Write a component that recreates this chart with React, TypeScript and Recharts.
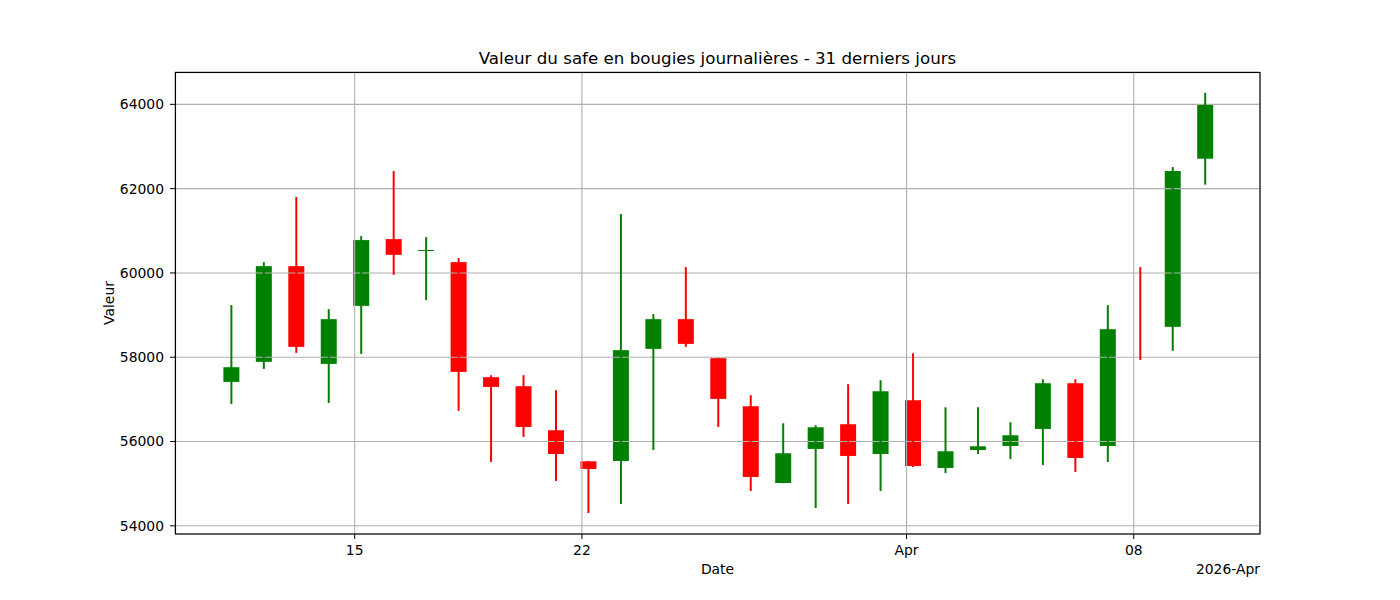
import { Bar, CartesianGrid, ComposedChart, XAxis, YAxis } from "recharts";

// bougies journalières (heure UTC du point = 05:00)
const jours = [
  "2026-03-11", "2026-03-12", "2026-03-13", "2026-03-14", "2026-03-15", "2026-03-16", "2026-03-17",
  "2026-03-18", "2026-03-19", "2026-03-20", "2026-03-21", "2026-03-22", "2026-03-23", "2026-03-24",
  "2026-03-25", "2026-03-26", "2026-03-27", "2026-03-28", "2026-03-29", "2026-03-30", "2026-03-31",
  "2026-04-01", "2026-04-02", "2026-04-03", "2026-04-04", "2026-04-05", "2026-04-06", "2026-04-07",
  "2026-04-08", "2026-04-09", "2026-04-10",
];
const ouvertures = [
  57415, 57890, 60161, 57842, 59219, 60802, 60525, 60256, 57526, 57312, 56267, 55531, 55539, 58198,
  58903, 57977, 56837, 55016, 55824, 56410, 55705, 56979, 55373, 55800, 55895, 56299, 57383, 55895,
  57945, 58721, 62710,
];
const hauts = [
  59235, 60256, 61800, 59140, 60874, 62417, 60850, 60351, 57573, 57573, 57217, 55540, 61396, 59022,
  60137, 57985, 57098, 56433, 56386, 57359, 57454, 58095, 56813, 56813, 56457, 57478, 57478, 59235,
  60137, 62512, 64269,
];
const bas = [
  56892, 57723, 58103, 56916, 58080, 59955, 59354, 56726, 55515, 56109, 55064, 54304, 54518, 55800,
  58246, 56346, 54827, 55010, 54423, 54518, 54827, 55396, 55254, 55705, 55586, 55444, 55278, 55515,
  57937, 58151, 62093,
];
const clotures = [
  57763, 60161, 58246, 58903, 60779, 60430, 60545, 57652, 57296, 56346, 55705, 55349, 58167, 58903,
  58317, 57011, 55159, 55721, 56338, 55658, 57193, 55420, 55768, 55887, 56148, 57383, 55610, 58665,
  57940, 62417, 63984,
];

const ticksDates = ["2026-03-15", "2026-03-22", "2026-04-01", "2026-04-08"];
const ticksEtiquettes = ["15", "22", "Apr", "08"];
const ticksValeur = [54000, 56000, 58000, 60000, 62000, 64000];

const HEURE = 3600 * 1000;
const ts = (jour: string) => Date.parse(`${jour}T00:00:00Z`);

const bougies = jours.map((j, i) => ({
  t: ts(j) + 5 * HEURE,
  open: ouvertures[i],
  high: hauts[i],
  low: bas[i],
  close: clotures[i],
}));

const ticksX = ticksDates.map(ts);
const domaineX: [number, number] = [ts("2026-03-09") + 11.15 * HEURE, ts("2026-04-11") + 21.35 * HEURE];
const domaineY: [number, number] = [53806, 64767];

const VERT = "#008000";
const ROUGE = "#ff0000";
const POLICE = "DejaVu Sans, sans-serif";
const TICK_STYLE = { fill: "#000", fontSize: 13.9, fontFamily: POLICE };

type Bougie = (typeof bougies)[number];

function Corps(props: any) {
  const { x, y, width, height, payload } = props as { x: number; y: number; width: number; height: number; payload: Bougie };
  if (height < 0.5) return null;
  const couleur = payload.close >= payload.open ? VERT : ROUGE;
  return <rect x={x} y={y} width={width} height={Math.max(height, 1)} fill={couleur} />;
}

function Meche(props: any) {
  const { x, y, width, height, payload } = props as { x: number; y: number; width: number; height: number; payload: Bougie };
  const couleur = payload.close >= payload.open ? VERT : ROUGE;
  const cx = x + width / 2;
  return <line x1={cx} x2={cx} y1={y} y2={y + height} stroke={couleur} strokeWidth={2} />;
}

export default function App() {
  return (
    <div style={{ position: "absolute", left: 0, top: 0, width: 1400, height: 600, background: "#fff" }}>
      <ComposedChart width={1400} height={600} data={bougies} margin={{ top: 72, right: 140, bottom: 36, left: 0 }}>
        <XAxis
          dataKey="t"
          type="number"
          domain={domaineX}
          allowDataOverflow
          ticks={ticksX}
          tickFormatter={(v: number) => ticksEtiquettes[ticksX.indexOf(v)] ?? ""}
          tick={TICK_STYLE}
          stroke="#000"
          axisLine={false}
          tickSize={5}
          tickMargin={6}
          height={30}
        />
        <XAxis xAxisId="w" dataKey="t" type="number" domain={domaineX} allowDataOverflow hide />
        <YAxis
          type="number"
          domain={domaineY}
          allowDataOverflow
          ticks={ticksValeur}
          tick={TICK_STYLE}
          stroke="#000"
          axisLine={false}
          tickSize={5}
          tickMargin={6}
          width={175}
        />
        <Bar
          dataKey={(d: Bougie) => [Math.min(d.open, d.close), Math.max(d.open, d.close)]}
          barSize={16}
          shape={<Corps />}
          isAnimationActive={false}
          zIndex={300}
        />
        <CartesianGrid stroke="#b0b0b0" strokeWidth={1.1} zIndex={350} />
        <Bar
          xAxisId="w"
          dataKey={(d: Bougie) => [d.low, d.high]}
          barSize={16}
          shape={<Meche />}
          isAnimationActive={false}
          zIndex={400}
        />
      </ComposedChart>
      <svg width={1400} height={600} style={{ position: "absolute", left: 0, top: 0, pointerEvents: "none" }} fontFamily={POLICE}>
        <rect x={175.5} y={72.5} width={1084.5} height={461.5} fill="none" stroke="#000" strokeWidth={1.1} />
        <text x={717.5} y={64} textAnchor="middle" fontSize={16.7} fill="#000">
          Valeur du safe en bougies journalières - 31 derniers jours
        </text>
        <text x={717.5} y={574} textAnchor="middle" fontSize={13.9} fill="#000">
          Date
        </text>
        <text x={1260} y={574} textAnchor="end" fontSize={13.9} fill="#000">
          2026-Apr
        </text>
        <text transform="translate(114,303) rotate(-90)" textAnchor="middle" fontSize={13.9} fill="#000">
          Valeur
        </text>
      </svg>
    </div>
  );
}
